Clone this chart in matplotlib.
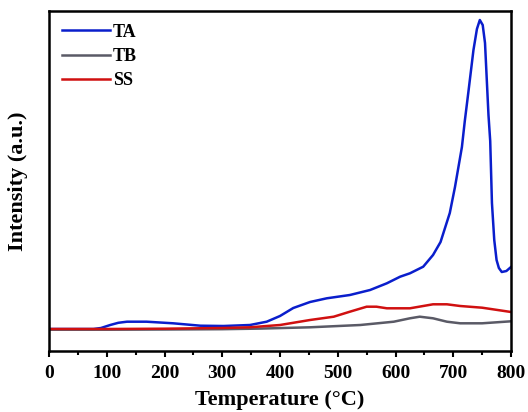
import numpy as np
import matplotlib.pyplot as plt
from matplotlib.ticker import MultipleLocator

# Temperature (°C) and intensity (arbitrary units)
t_ta = [0, 50, 77, 90, 106, 120, 135, 169, 215, 262, 302, 348, 377, 400, 423, 452, 481,
        521, 556, 585, 608, 625, 648, 665, 678, 694, 703, 715, 720, 726, 735, 741,
        746, 751, 755, 761, 764, 767, 771, 775, 779, 784, 792, 800]
ta = [22, 22, 22, 23, 26, 28.2, 29.3, 29.3, 27.7, 25.3, 25, 26, 29.3, 35, 43, 49, 52.7,
      56, 61, 67.7, 74.3, 77.7, 84.3, 96, 109, 138, 164, 204, 230, 258, 301, 322,
      331, 326, 308, 236, 210, 148, 111, 91, 83, 79, 80, 84]

t_tb = [0, 100, 200, 300, 365, 452, 539, 597, 625, 642, 665, 689, 712, 750, 800]
tb = [21.3, 21.3, 21.5, 21.8, 22.4, 23.7, 26, 29.3, 32.7, 34.3, 32.7, 29.3, 27.7, 27.7, 29.7]

t_ss = [0, 100, 200, 300, 348, 377, 400, 452, 493, 521, 550, 567, 585, 625, 665, 689,
        712, 750, 800]
ss = [22, 22, 22.3, 23, 23.7, 25, 26, 31, 34.3, 39.3, 44.3, 44.3, 42.7, 42.7, 46.7, 46.7,
      45, 43.3, 39]

plt.rcParams['font.family'] = ['Liberation Serif', 'DejaVu Serif']
plt.rcParams['font.weight'] = 'bold'

fig = plt.figure(figsize=(5.28, 4.12), dpi=100)
ax = fig.add_axes([49 / 528, 1 - 351 / 412, 462 / 528, 340 / 412])

ax.plot(t_ta, ta, color='#0a1ecc', lw=1.8, label='TA')
ax.plot(t_tb, tb, color='#5a5a66', lw=1.8, label='TB')
ax.plot(t_ss, ss, color='#d01010', lw=1.8, label='SS')

ax.set_xlim(0, 800)
ax.set_ylim(0, 340)
ax.xaxis.set_major_locator(MultipleLocator(100))
ax.xaxis.set_minor_locator(MultipleLocator(50))
ax.set_yticks([])
ax.tick_params(axis='x', which='major', direction='out', length=4, width=1.5,
               labelsize=14, pad=6)
ax.tick_params(axis='x', which='minor', direction='out', length=3, width=1.5)
for s in ax.spines.values():
    s.set_linewidth(1.8)

ax.set_xlabel('Temperature (°C)', fontsize=16, fontweight='bold', labelpad=6)
ax.set_ylabel('Intensity (a.u.)', fontsize=16, fontweight='bold', labelpad=15)

ax.legend(loc='upper left', frameon=False, handlelength=2.7,
          handletextpad=0.15, labelspacing=0.4, borderaxespad=0.3,
          borderpad=0.4, prop={'weight': 'bold', 'size': 13})

fig.savefig('out.png', dpi=100)
